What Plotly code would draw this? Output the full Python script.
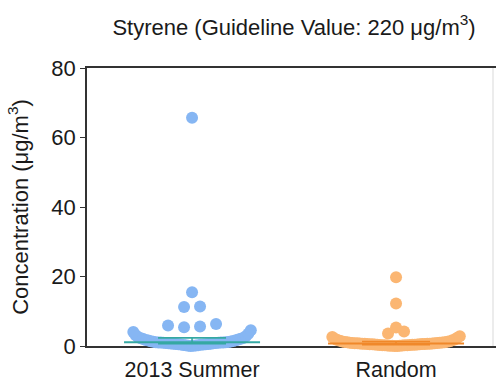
import numpy as np
import plotly.graph_objects as go

# ---- data -------------------------------------------------------------
categories = ["2013 Summer", "Random"]

summer_values = [
    0.00, 0.05, 0.10, 0.15, 0.20, 0.25, 0.30, 0.35, 0.40, 0.45, 0.48, 0.52,
    0.56, 0.60, 0.64, 0.68, 0.72, 0.76, 0.80, 0.84, 0.88, 0.92, 0.95, 0.98,
    1.00, 1.02, 1.04, 1.06, 1.10, 1.16, 1.23, 1.30, 1.38, 1.46, 1.55, 1.65,
    1.75, 1.86, 1.98, 2.10, 2.20, 2.30, 2.50, 2.80, 3.10, 3.50, 4.00, 4.50,
    5.4, 5.6, 5.9, 6.3, 11.2, 11.4, 15.5, 65.7,
]

random_values = [
    0.00, 0.02, 0.05, 0.08, 0.10, 0.12, 0.15, 0.18, 0.20, 0.22, 0.25, 0.28,
    0.30, 0.33, 0.36, 0.39, 0.42, 0.45, 0.48, 0.50, 0.52, 0.55, 0.58, 0.60,
    0.62, 0.64, 0.66, 0.68, 0.70, 0.73, 0.76, 0.79, 0.82, 0.85, 0.88, 0.92,
    0.96, 1.00, 1.05, 1.10, 1.16, 1.22, 1.30, 1.40, 1.50, 1.62, 1.75, 1.90,
    2.10, 2.35, 2.60, 2.80,
    3.6, 4.2, 5.3, 12.2, 19.8,
]

y_ticks = [0, 20, 40, 60, 80]

# ---- style ------------------------------------------------------------
point_colors = ["#86b6f3", "#fbb672"]
line_colors = ["#35a8a3", "#f0882a"]
axis_color = "#333333"
font_family = "Liberation Sans, Arial, sans-serif"

W, H = 496, 381
M_L, M_R, M_T, M_B = 87, 0, 68, 35
X_RANGE = [-0.515, 1.49]
Y_RANGE = [0, 80]
plot_w = W - M_L - M_R
px_per_x = plot_w / (X_RANGE[1] - X_RANGE[0])

MARKER = 12          # dot diameter, px
SPARSE_STEP = 16     # px between neighbouring dots of a small run
DENSE_STEP = 2.5     # smallest px step when a long run gets packed
HALF_WIDTH = 58      # px a run may spread to either side before packing
RUN_GAP = 0.75       # value gap that starts a new run
MEDIAN_HALF = 68     # px
CAP_HALF = 34        # px


def swarm_offsets(vals):
    """Horizontal offsets (x units) for a column scatter: similar values are
    spread centre-outwards in ascending order, packed tighter when crowded."""
    vals = np.asarray(vals, dtype=float)
    order = np.argsort(vals, kind="stable")
    v = vals[order]
    runs, start = [], 0
    for i in range(1, len(v) + 1):
        if i == len(v) or v[i] - v[i - 1] > RUN_GAP:
            runs.append(range(start, i))
            start = i
    off = np.zeros(len(v))
    for run in runs:
        k = len(run)
        if k == 1:
            continue
        step = max(DENSE_STEP, min(SPARSE_STEP, 2 * HALF_WIDTH / (k - 1)))
        slots = (np.arange(k) - (k - 1) / 2) * step
        slots = sorted(slots, key=lambda s: (abs(s), s))
        for idx, s in zip(run, slots):
            off[idx] = s
    out = np.zeros(len(v))
    out[order] = off
    return out / px_per_x


fig = go.Figure()

for i, vals in enumerate([summer_values, random_values]):
    xs = i + swarm_offsets(vals)
    fig.add_trace(go.Scatter(
        x=xs, y=vals, mode="markers",
        marker=dict(size=MARKER, color=point_colors[i], line=dict(width=0)),
        cliponaxis=False, hoverinfo="y", showlegend=False,
    ))

for i, vals in enumerate([summer_values, random_values]):
    q1, med, q3 = np.percentile(vals, [25, 50, 75])
    mh = MEDIAN_HALF / px_per_x
    ch = CAP_HALF / px_per_x
    # median
    fig.add_trace(go.Scatter(
        x=[i - mh, i + mh], y=[med, med], mode="lines",
        line=dict(color=line_colors[i], width=2),
        cliponaxis=False, hoverinfo="skip", showlegend=False,
    ))
    # interquartile range with caps
    fig.add_trace(go.Scatter(
        x=[i, i, None, i - ch, i + ch, None, i - ch, i + ch],
        y=[q1, q3, None, q1, q1, None, q3, q3], mode="lines",
        line=dict(color=line_colors[i], width=1.6),
        cliponaxis=False, hoverinfo="skip", showlegend=False,
    ))

fig.update_layout(
    width=W, height=H,
    margin=dict(l=M_L, r=M_R, t=M_T, b=M_B, autoexpand=False),
    paper_bgcolor="white", plot_bgcolor="white",
    font=dict(family=font_family, size=22, color="#1a1a1a"),
    title=dict(
        text="Styrene (Guideline Value: 220 \u03bcg/m<sup>3</sup>)",
        x=(294 - M_L) / plot_w, xref="paper", xanchor="center",
        y=1 - 27 / H, yref="container", yanchor="middle",
        font=dict(size=22),
    ),
    xaxis=dict(
        range=X_RANGE, tickvals=[0, 1], ticktext=categories,
        showline=True, linecolor=axis_color, linewidth=1.6, mirror=True,
        ticks="outside", ticklen=3, tickwidth=1.4, tickcolor=axis_color,
        showgrid=False, zeroline=False, layer="below traces",
        tickfont=dict(size=21.5),
    ),
    yaxis=dict(
        range=Y_RANGE, tickvals=y_ticks,
        showline=True, linecolor=axis_color, linewidth=1.6,
        ticks="outside", ticklen=5, tickwidth=1.4, tickcolor=axis_color,
        showgrid=False, zeroline=False,
        tickfont=dict(size=22),
        title=dict(text="Concentration (\u03bcg/m<sup>3</sup>)",
                   font=dict(size=22), standoff=17),
    ),
    shapes=[dict(
        type="line", xref="paper", yref="paper",
        x0=(493 - M_L) / plot_w, x1=(493 - M_L) / plot_w, y0=0, y1=1,
        line=dict(color="#d9d9d9", width=1),
    )],
)

fig.write_html("out.html")
